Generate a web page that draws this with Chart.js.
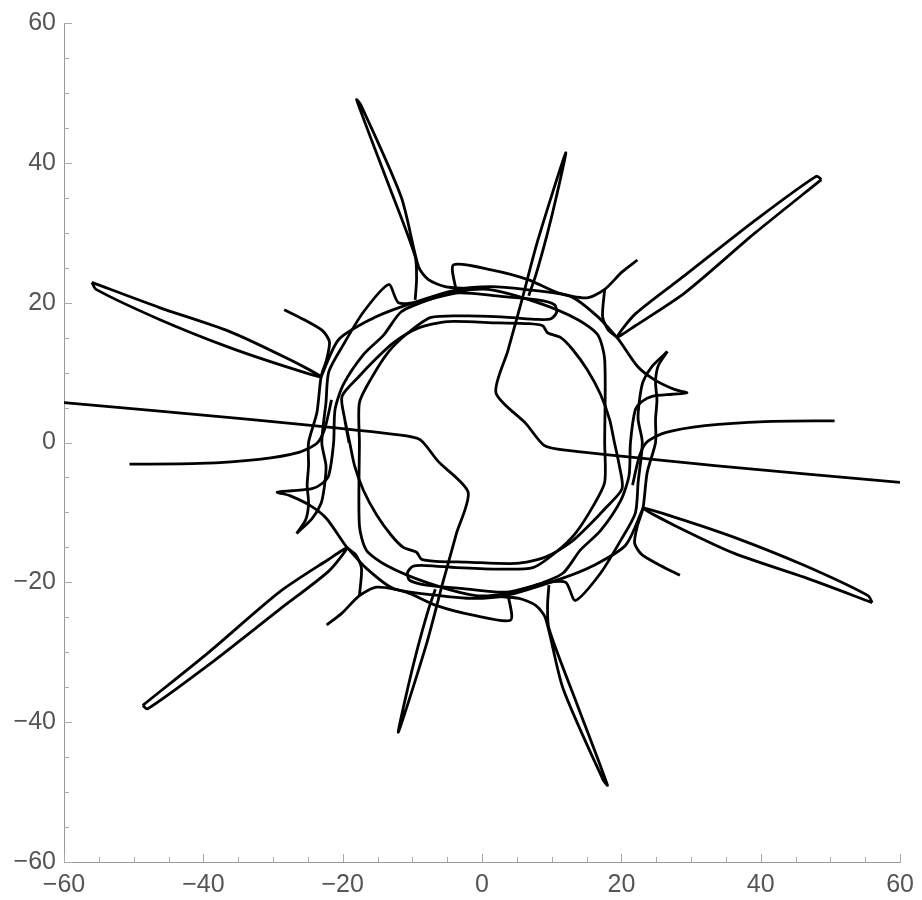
<!DOCTYPE html>
<html>
<head>
<meta charset="utf-8">
<script src="https://cdn.jsdelivr.net/npm/chart.js@4.4.1/dist/chart.umd.min.js"></script>
<style>
  html, body { margin: 0; padding: 0; background: #fff; }
  #wrap { width: 922px; height: 900px; }
</style>
</head>
<body>
<div id="wrap"><canvas id="chart" width="922" height="900"></canvas></div>
<script>
// axis ticks
const xTicks = [-60, -40, -20, 0, 20, 40, 60];
const yTicks = [-60, -40, -20, 0, 20, 40, 60];

// long line from the left, bending down into the lower spike
const longLineLeft = [[-60,5.7],[-33.4,3.3],[-12,1.1],[-8.9,0.4],[-6.3,-2.7],[-2,-7.1],[-3.7,-13.1],[-5.7,-20.3],[-8,-28.9],[-12,-41.4],[-10.7,-35.3],[-9.3,-29.6],[-7.7,-23.9],[-6.7,-21]];
const longLineRight = [[60,-5.7],[33.4,-3.3],[12,-1.1],[8.9,-0.4],[6.3,2.7],[2,7.1],[3.7,13.1],[5.7,20.3],[8,28.9],[12,41.4],[10.7,35.3],[9.3,29.6],[7.7,23.9],[6.7,21]];

// single tails
const tailLeft = [[-50.6,-3.1],[-40.6,-3],[-32,-2.4],[-26.3,-1.4],[-23.7,-0.1],[-22.6,1.9],[-21.6,6.1]];
const tailRight = [[50.6,3.1],[40.6,3],[32,2.4],[26.3,1.4],[23.7,0.1],[22.6,-1.9],[21.6,-6.1]];

// lens shaped spikes
const lensUpLeft = [[-56,22.9],[-46.3,19.3],[-36.3,15.9],[-27.7,11.9],[-23.1,9.4],[-27.7,10.7],[-36.3,13.6],[-46.3,17.6],[-55.4,21.9],[-56,22.9]];
const lensDownRight = [[56,-22.9],[46.3,-19.3],[36.3,-15.9],[27.7,-11.9],[23.1,-9.4],[27.7,-10.7],[36.3,-13.6],[46.3,-17.6],[55.4,-21.9],[56,-22.9]];
const lensDownLeft = [[-48.7,-37.6],[-39.1,-29.9],[-29.1,-21.4],[-22,-16.7],[-19.4,-15.1],[-22,-18.4],[-29.1,-23.9],[-39.1,-31.7],[-48,-38.1],[-48.7,-37.6]];
const lensUpRight = [[48.7,37.6],[39.1,29.9],[29.1,21.4],[22,16.7],[19.4,15.1],[22,18.4],[29.1,23.9],[39.1,31.7],[48,38.1],[48.7,37.6]];
const spikeTop = [[-9.6,20.4],[-9.4,23.3],[-9.6,26.6],[-13.7,37.6],[-18,49],[-17.4,48.3],[-11.6,35.1],[-9.1,25.1],[-7.7,23.3],[-5.3,22.3],[-2,22]];
const spikeBottom = [[9.6,-20.4],[9.4,-23.3],[9.6,-26.6],[13.7,-37.6],[18,-49],[17.4,-48.3],[11.6,-35.1],[9.1,-25.1],[7.7,-23.3],[5.3,-22.3],[2,-22]];

// ring strands
const ringS1 = [[-24.6,0],[-23.7,4.3],[-23.1,9.4],[-22.3,11.9],[-21.9,14.4],[-22.9,16],[-25.6,17.6],[-28.4,19]];
const ringS1b = [[24.6,0],[23.7,-4.3],[23.1,-9.4],[22.3,-11.9],[21.9,-14.4],[22.9,-16],[25.6,-17.6],[28.4,-19]];
const ringA = [[-17.4,0],[-17.6,5.7],[-16,9],[-13.4,13],[-10.6,15.7],[-7.3,17.9],[-2,18.1],[3.7,17.9],[8,17.6],[9.9,17.7],[10.7,18.6],[10.4,19.7],[8,20.4],[2.7,20.9],[-3.4,21.4],[-9.1,20.1],[-12,20],[-13.4,22.6],[-17,18.7],[-19.9,14],[-22,10.1],[-22.4,5.7],[-23,0]];
const ringAb = [[17.4,0],[17.6,-5.7],[16,-9],[13.4,-13],[10.6,-15.7],[7.3,-17.9],[2,-18.1],[-3.7,-17.9],[-8,-17.6],[-9.9,-17.7],[-10.7,-18.6],[-10.4,-19.7],[-8,-20.4],[-2.7,-20.9],[3.4,-21.4],[9.1,-20.1],[12,-20],[13.4,-22.6],[17,-18.7],[19.9,-14],[22,-10.1],[22.4,-5.7],[23,0]];
const ringB = [[-19.1,0],[-19.7,3.3],[-20.1,6.6],[-17.7,9.4],[-15.3,11.9],[-12.7,14.3],[-9.1,16.4],[-4.9,17.3],[2.3,17.1],[6.6,17],[8.7,16.7],[9.4,15.7],[11.3,15],[13,13.3],[15.1,10.4],[17,6.9],[18.3,3.3],[19,0]];
const ringBb = [[19.1,0],[19.7,-3.3],[20.1,-6.6],[17.7,-9.4],[15.3,-11.9],[12.7,-14.3],[9.1,-16.4],[4.9,-17.3],[-2.3,-17.1],[-6.6,-17],[-8.7,-16.7],[-9.4,-15.7],[-11.3,-15],[-13,-13.3],[-15.1,-10.4],[-17,-6.9],[-18.3,-3.3],[-19,0]];
const ringC = [[-21.6,0],[-21.1,4.7],[-19.9,8.3],[-17,12.6],[-14.1,15.4],[-11.6,18.7],[-7.7,20.4],[-3.4,21.6],[0.9,21.9],[8,20],[13.7,17.6],[16.6,15.4],[17.6,11.9],[17.6,0]];
const ringCb = [[21.6,0],[21.1,-4.7],[19.9,-8.3],[17,-12.6],[14.1,-15.4],[11.6,-18.7],[7.7,-20.4],[3.4,-21.6],[-0.9,-21.9],[-8,-20],[-13.7,-17.6],[-16.6,-15.4],[-17.6,-11.9],[-17.6,0]];
const ringD = [[-23.1,9.4],[-20.6,14.7],[-16,17.6],[-11.6,19.4],[-3.4,21.9],[1.3,22.3],[6.1,21.9],[12.7,20.9],[16.6,18],[19.4,15]];
const ringDb = [[23.1,-9.4],[20.6,-14.7],[16,-17.6],[11.6,-19.4],[3.4,-21.9],[-1.3,-22.3],[-6.1,-21.9],[-12.7,-20.9],[-16.6,-18],[-19.4,-15]];
const ringO1 = [[-3.7,21.6],[-4.1,25.4],[1.3,24.7],[6.6,23.3],[10.9,21.4],[15.1,20.7],[17.6,21.9],[20.1,24.4],[22.3,26.1]];
const ringO1b = [[3.7,-21.6],[4.1,-25.4],[-1.3,-24.7],[-6.6,-23.3],[-10.9,-21.4],[-15.1,-20.7],[-17.6,-21.9],[-20.1,-24.4],[-22.3,-26.1]];
const ringO2 = [[17.6,21.9],[17.3,18],[18.1,16.1],[19.4,15],[22.3,10.9],[24.7,9],[27.6,7.6],[29.4,7.1],[27.3,6.9],[24.4,6.6],[23,5.9],[22,4.7],[21.3,0]];
const ringO2b = [[-17.6,-21.9],[-17.3,-18],[-18.1,-16.1],[-19.4,-15],[-22.3,-10.9],[-24.7,-9],[-27.6,-7.6],[-29.4,-7.1],[-27.3,-6.9],[-24.4,-6.6],[-23,-5.9],[-22,-4.7],[-21.3,0]];
const hookH1 = [[26.6,13],[24.4,10.9],[23.1,8.7],[22.6,6.1],[22.4,3.3],[22.4,0]];
const hookH1b = [[-26.6,-13],[-24.4,-10.9],[-23.1,-8.7],[-22.6,-6.1],[-22.4,-3.3],[-22.4,0]];
const hookH2 = [[26.6,13],[25.3,11],[24.9,8.7],[25.1,6.1],[24.9,3.3],[24.9,0]];
const hookH2b = [[-26.6,-13],[-25.3,-11],[-24.9,-8.7],[-25.1,-6.1],[-24.9,-3.3],[-24.9,0]];

// strands that meet on the x axis are joined (shared end point kept once)
const rev = (a) => a.slice().reverse();
const join = (...parts) => parts.reduce((acc, p, i) => acc.concat(i ? p.slice(1) : p), []);
const paths = [
  longLineLeft, longLineRight, tailLeft, tailRight,
  lensUpLeft, lensDownRight, lensDownLeft, lensUpRight, spikeTop, spikeBottom,
  join(ringB, ringBb, ringB.slice(0, 2)),
  join(hookH2, ringS1b),
  join(hookH2b, ringS1),
  join(ringO2, ringCb, ringA, rev(hookH1b)),
  join(ringO2b, ringC, ringAb, rev(hookH1)),
  ringD, ringDb, ringO1, ringO1b
];

const datasets = paths.map((p) => ({
  data: p.map(([x, y]) => ({ x, y })),
  showLine: true,
  pointRadius: 0,
  borderColor: "#000",
  borderWidth: 2.8,
  tension: 0.25,
  fill: false,
}));

const fmt = (v) => (v < 0 ? "\u2212" + Math.abs(v) : String(v));

// small inward tick marks every 5 units
const innerTicks = {
  id: "innerTicks",
  afterDraw(chart) {
    const { ctx, chartArea, scales } = chart;
    ctx.save();
    ctx.strokeStyle = "#aaa";
    ctx.lineWidth = 1;
    for (let v = -60; v <= 60; v += 5) {
      const len = v % 20 === 0 ? 8 : 5;
      const px = Math.round(scales.x.getPixelForValue(v)) + 0.5;
      ctx.beginPath();
      ctx.moveTo(px, chartArea.bottom);
      ctx.lineTo(px, chartArea.bottom - len);
      ctx.stroke();
      const py = Math.round(scales.y.getPixelForValue(v)) + 0.5;
      ctx.beginPath();
      ctx.moveTo(chartArea.left, py);
      ctx.lineTo(chartArea.left + len, py);
      ctx.stroke();
    }
    ctx.restore();
  },
};

const tickFont = { family: "'Liberation Sans', Arial, sans-serif", size: 25 };

new Chart(document.getElementById("chart"), {
  type: "scatter",
  data: { datasets },
  options: {
    responsive: false,
    animation: false,
    devicePixelRatio: 1,
    layout: { padding: { top: 22, right: 18, left: 0, bottom: 0 } },
    plugins: { legend: { display: false }, tooltip: { enabled: false } },
    scales: {
      x: {
        type: "linear",
        min: -60,
        max: 60,
        afterFit: (s) => { s.height = 38; },
        afterBuildTicks: (s) => { s.ticks = xTicks.map((v) => ({ value: v })); },
        grid: { display: false, drawTicks: false },
        border: { display: true, color: "#999", width: 1 },
        ticks: { autoSkip: false, maxRotation: 0, padding: 8, color: "#555", font: tickFont, callback: fmt },
      },
      y: {
        type: "linear",
        min: -60,
        max: 60,
        afterFit: (s) => { s.width = 64; },
        afterBuildTicks: (s) => { s.ticks = yTicks.map((v) => ({ value: v })); },
        grid: { display: false, drawTicks: false },
        border: { display: true, color: "#999", width: 1 },
        ticks: { autoSkip: false, padding: 8, color: "#555", font: tickFont, callback: fmt },
      },
    },
  },
  plugins: [innerTicks],
});
</script>
</body>
</html>
